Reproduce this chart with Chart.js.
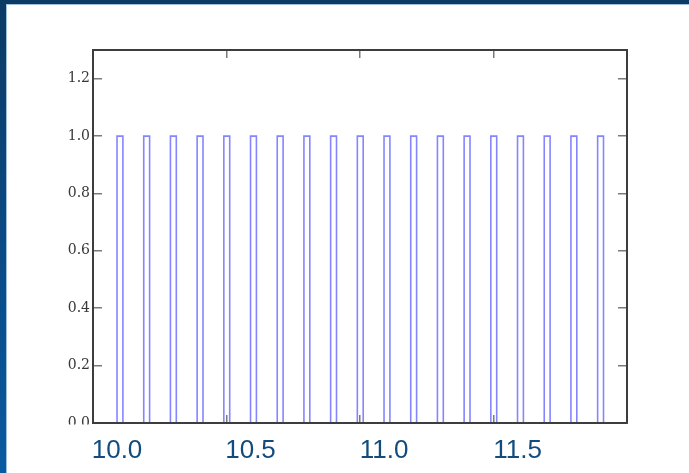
<!DOCTYPE html>
<html>
<head>
<meta charset="utf-8">
<script src="https://cdn.jsdelivr.net/npm/chart.js@4/dist/chart.umd.min.js"></script>
<style>
  html, body { margin: 0; padding: 0; }
  body {
    width: 689px; height: 473px; overflow: hidden; position: relative;
    background: linear-gradient(180deg, #0b3a64 0%, #0a4d8a 60%, #0b5aa0 100%);
  }
  #panel {
    position: absolute; left: 7px; top: 5px; right: 0; bottom: 0;
    background: #ffffff; box-shadow: 0 0 0 1px #9cc0dc;
  }
  #wrap { position: absolute; left: 0; top: 0; width: 689px; height: 473px; }
</style>
</head>
<body>
<div id="panel"></div>
<div id="wrap"><canvas id="c" width="689" height="473"></canvas></div>
<script>
// Pulse train: rising-edge times and a common pulse width
const pulseStarts = [10.0, 10.1, 10.2, 10.3, 10.4, 10.5, 10.6, 10.7, 10.8, 10.9,
                     11.0, 11.1, 11.2, 11.3, 11.4, 11.5, 11.6, 11.7, 11.8];
const pulseWidth = 0.022;
const pulseHigh = 1.0;
const pulseLow = 0.0;

// Axis labels / tick positions
const xLabelValues = [10.0, 10.5, 11.0, 11.5];
const xTickMarks = [9.91, 10.41, 10.91, 11.41, 11.91];
const yTickValues = [0.0, 0.2, 0.4, 0.6, 0.8, 1.0, 1.2];
const xRange = [9.91, 11.91];
const yRange = [0, 1.3];

// Build the square-wave outline from the pulse edges
const wave = [];
pulseStarts.forEach(t => {
  wave.push({x: t, y: pulseLow});
  wave.push({x: t, y: pulseHigh});
  wave.push({x: t + pulseWidth, y: pulseHigh});
  wave.push({x: t + pulseWidth, y: pulseLow});
});

const frameColor = '#3d3d3d';
const markColor = '#7a7a7a';

function fixedTicks(values) {
  return function (scale) {
    scale.ticks = values.map(v => ({value: v}));
  };
}

// Paints over the part of the y labels that falls below the frame
const cropBelowFrame = {
  id: 'cropBelowFrame',
  afterDraw(chart) {
    const ctx = chart.ctx, a = chart.chartArea;
    ctx.save();
    ctx.fillStyle = '#ffffff';
    ctx.fillRect(7, a.bottom + 1.5, a.left - 8, 14);
    ctx.restore();
  }
};

new Chart(document.getElementById('c'), {
  type: 'line',
  data: {
    datasets: [{
      data: wave,
      borderColor: '#8585ff',
      borderWidth: 1.6,
      pointRadius: 0,
      fill: false,
      tension: 0
    }]
  },
  options: {
    responsive: false,
    animation: false,
    events: [],
    layout: { padding: { left: 0, top: 50, right: 62, bottom: 0 } },
    plugins: { legend: { display: false }, tooltip: { enabled: false } },
    scales: {
      x: {
        type: 'linear', position: 'bottom', weight: 1,
        min: xRange[0], max: xRange[1],
        afterBuildTicks: fixedTicks(xLabelValues),
        afterFit(s) { s.height = 50; },
        grid: { display: false, drawTicks: false },
        border: { display: false },
        ticks: {
          padding: 12, maxRotation: 0, autoSkip: false,
          color: '#124b7e',
          font: { family: '"Liberation Sans", Arial, sans-serif', size: 26 },
          callback: v => v.toFixed(1)
        }
      },
      xMarks: {
        type: 'linear', position: 'bottom', weight: 0,
        min: xRange[0], max: xRange[1],
        afterBuildTicks: fixedTicks(xTickMarks),
        afterFit(s) { s.height = 0; },
        grid: { drawOnChartArea: false, drawTicks: true, tickLength: -8, color: markColor, lineWidth: 1.5 },
        border: { display: true, color: frameColor, width: 2, z: 2 },
        ticks: { display: false }
      },
      xTop: {
        type: 'linear', position: 'top',
        min: xRange[0], max: xRange[1],
        afterBuildTicks: fixedTicks(xTickMarks),
        afterFit(s) { s.height = 0; },
        grid: { drawOnChartArea: false, drawTicks: true, tickLength: -8, color: markColor, lineWidth: 1.5 },
        border: { display: true, color: frameColor, width: 2, z: 2 },
        ticks: { display: false }
      },
      y: {
        type: 'linear', position: 'left',
        min: yRange[0], max: yRange[1],
        afterBuildTicks: fixedTicks(yTickValues),
        afterFit(s) { s.width = 93; },
        grid: { drawOnChartArea: false, drawTicks: true, tickLength: -9, color: markColor, lineWidth: 1.5 },
        border: { display: true, color: frameColor, width: 2, z: 2 },
        ticks: {
          padding: 12, color: '#383838',
          font: { family: '"DejaVu Serif", serif', size: 14 },
          callback: v => v.toFixed(1)
        }
      },
      yRight: {
        type: 'linear', position: 'right',
        min: yRange[0], max: yRange[1],
        afterBuildTicks: fixedTicks(yTickValues),
        afterFit(s) { s.width = 0; },
        grid: { drawOnChartArea: false, drawTicks: true, tickLength: -9, color: markColor, lineWidth: 1.5 },
        border: { display: true, color: frameColor, width: 2, z: 2 },
        ticks: { display: false }
      }
    }
  },
  plugins: [cropBelowFrame]
});
</script>
</body>
</html>
